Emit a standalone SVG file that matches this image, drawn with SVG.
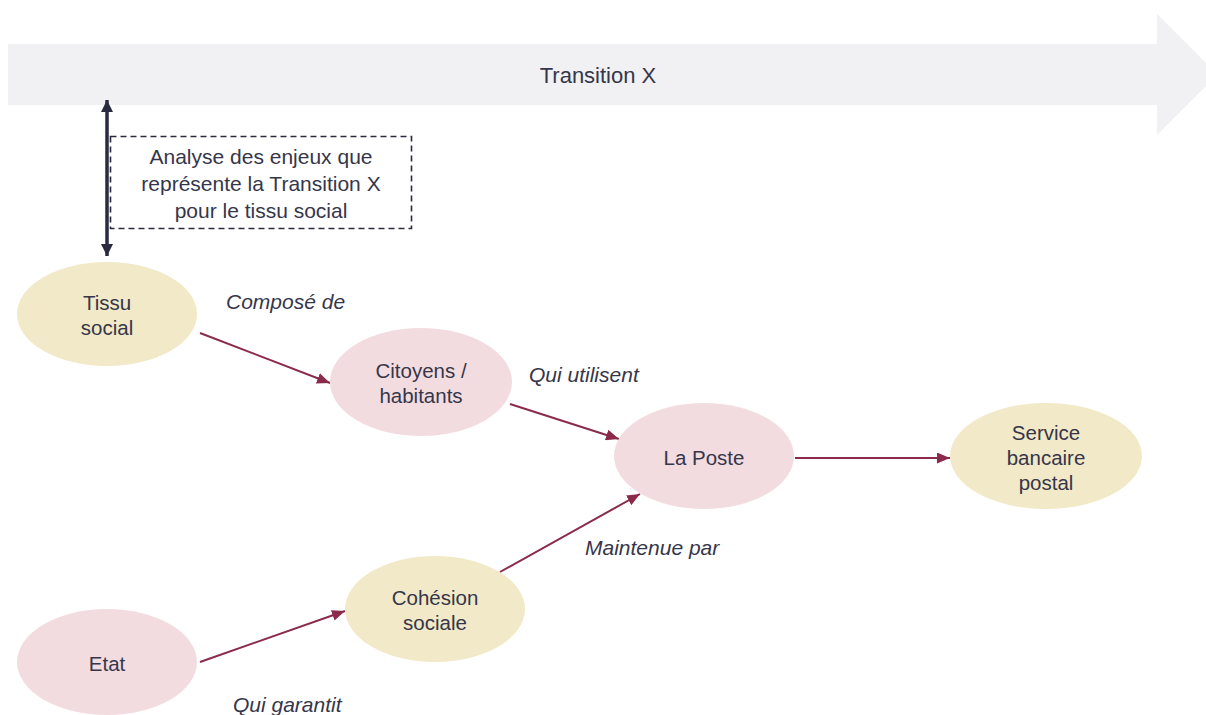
<svg xmlns="http://www.w3.org/2000/svg" width="1206" height="715" viewBox="0 0 1206 715">
<defs>
<style>
text{font-family:"Liberation Sans",Arial,sans-serif;fill:#36364a}
.n{font-size:20.5px;text-anchor:middle}
.b{font-size:21px;text-anchor:middle}
.l{font-size:21px;font-style:italic}
.e{stroke:#8a2b4b;stroke-width:2;fill:none;marker-end:url(#ah)}
.pink{fill:#f3dce0}
.yel{fill:#f1e9c7}
</style>
<marker id="ah" viewBox="0 0 10 10" refX="10" refY="5" markerWidth="13" markerHeight="11" markerUnits="userSpaceOnUse" orient="auto" preserveAspectRatio="none">
<path d="M0,0L10,5L0,10z" fill="#8a2b4b"/>
</marker>
<marker id="dh" viewBox="0 0 10 10" refX="10" refY="5" markerWidth="12" markerHeight="12" markerUnits="userSpaceOnUse" orient="auto">
<path d="M0,0L10,5L0,10z" fill="#2a2a40"/>
</marker>
</defs>
<rect width="1206" height="715" fill="#ffffff"/>
<g id="banner">
<path d="M8,44H1157V14L1217.5,74.5L1157,135V105H8z" fill="#f1f1f3"/>
<text x="598" y="83" style="font-size:22px;text-anchor:middle">Transition X</text>
</g>
<g id="analyse">
<rect x="110.5" y="136.5" width="301" height="92" fill="none" stroke="#2a2a40" stroke-width="1.6" stroke-dasharray="6,4"/>
<text class="b" x="261" y="164">Analyse des enjeux que</text>
<text class="b" x="261" y="191">représente la Transition X</text>
<text class="b" x="261" y="218">pour le tissu social</text>
</g>
<g id="connectors">
<line x1="107" y1="178" x2="107" y2="100" stroke="#2a2a40" stroke-width="3.5" marker-end="url(#dh)"/>
<line x1="107" y1="178" x2="107" y2="256" stroke="#2a2a40" stroke-width="3.5" marker-end="url(#dh)"/>
<line class="e" x1="200" y1="333" x2="330" y2="383"/>
<line class="e" x1="510" y1="404" x2="619" y2="439"/>
<line class="e" x1="795" y1="458" x2="950" y2="458"/>
<line class="e" x1="200" y1="662" x2="345" y2="611"/>
<line class="e" x1="500" y1="572" x2="640" y2="494"/>
<text class="l" x="226" y="309">Composé de</text>
<text class="l" x="529" y="382">Qui utilisent</text>
<text class="l" x="585" y="555">Maintenue par</text>
<text class="l" x="233" y="712">Qui garantit</text>
</g>
<g id="tissu">
<ellipse class="yel" cx="107" cy="314" rx="90" ry="52"/>
<text class="n" x="107" y="310">Tissu</text>
<text class="n" x="107" y="335">social</text>
</g>
<g id="citoyens">
<ellipse class="pink" cx="421" cy="382" rx="91" ry="54"/>
<text class="n" x="421" y="378">Citoyens /</text>
<text class="n" x="421" y="403">habitants</text>
</g>
<g id="laposte">
<ellipse class="pink" cx="704" cy="456" rx="90" ry="53"/>
<text class="n" x="704" y="465">La Poste</text>
</g>
<g id="service">
<ellipse class="yel" cx="1046" cy="456" rx="96" ry="53"/>
<text class="n" x="1046" y="440">Service</text>
<text class="n" x="1046" y="465">bancaire</text>
<text class="n" x="1046" y="490">postal</text>
</g>
<g id="cohesion">
<ellipse class="yel" cx="435" cy="609" rx="90" ry="53"/>
<text class="n" x="435" y="605">Cohésion</text>
<text class="n" x="435" y="630">sociale</text>
</g>
<g id="etat">
<ellipse class="pink" cx="107" cy="662" rx="90" ry="53"/>
<text class="n" x="107" y="671">Etat</text>
</g>
</svg>
